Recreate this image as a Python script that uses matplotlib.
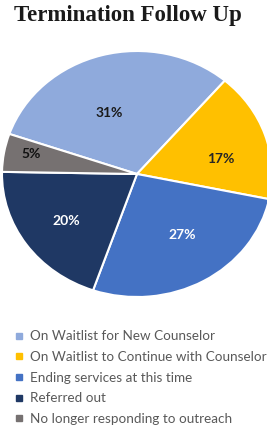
import matplotlib.pyplot as plt
from matplotlib.lines import Line2D
import numpy as np

# ---------------------

categories = ['On Waitlist for New Counselor',
              'On Waitlist to Continue with Counselor',
              'Ending services at this time',
              'Referred out',
              'No longer responding to outreach']
shares = [31, 17, 27, 20, 5]

colors = ['#8faadc', '#ffc000', '#4472c4', '#1f3864', '#767171']
label_colors = ['#1a1a1a', '#262626', 'white', 'white', '#111111']
label_radius = [0.54, 0.63, 0.6, 0.65, 0.8]
label_shift = [7, -8, 4, 1, -2]   # degrees, nudges to match the original placement

# ---------------------

W, H = 267, 430
fig = plt.figure(figsize=(W / 100, H / 100), dpi=100)

fig.text(128 / W, 1 - 16 / H, 'Termination Follow Up', ha='center', va='center',
         fontsize=16.5, fontweight='bold', family='Liberation Serif', color='#1a1a1a')

# pie is a bit squashed vertically in the original
cx, cy, rx, ry = 137, 174, 135, 123
ax = fig.add_axes([(cx - rx) / W, 1 - (cy + ry) / H, 2 * rx / W, 2 * ry / H])

wedges, texts, autotexts = ax.pie(shares, colors=colors, startangle=161, counterclock=False,
                                  autopct='%d%%', pctdistance=0.6,
                                  wedgeprops=dict(edgecolor='white', linewidth=1.5))
ax.set_aspect('auto')
ax.set_xlim(-1, 1)
ax.set_ylim(-1, 1)

for w, t, r, s, c in zip(wedges, autotexts, label_radius, label_shift, label_colors):
    mid = np.deg2rad((w.theta1 + w.theta2) / 2 + s)
    t.set_position((r * np.cos(mid), r * np.sin(mid)))
    t.set_color(c)
    t.set_fontsize(10)
    t.set_fontweight('bold')
    t.set_family('Lato')

handles = [Line2D([], [], marker='s', linestyle='', markersize=4, color=c) for c in colors]
fig.legend(handles, categories, loc='upper left', bbox_to_anchor=(10 / W, 1 - 325 / H),
           frameon=False, prop=dict(family='Lato', size=9.7), labelcolor='#595959',
           handlelength=0.6, handletextpad=0.45, labelspacing=0.64, borderaxespad=0)

fig.savefig('out.png', dpi=100)
